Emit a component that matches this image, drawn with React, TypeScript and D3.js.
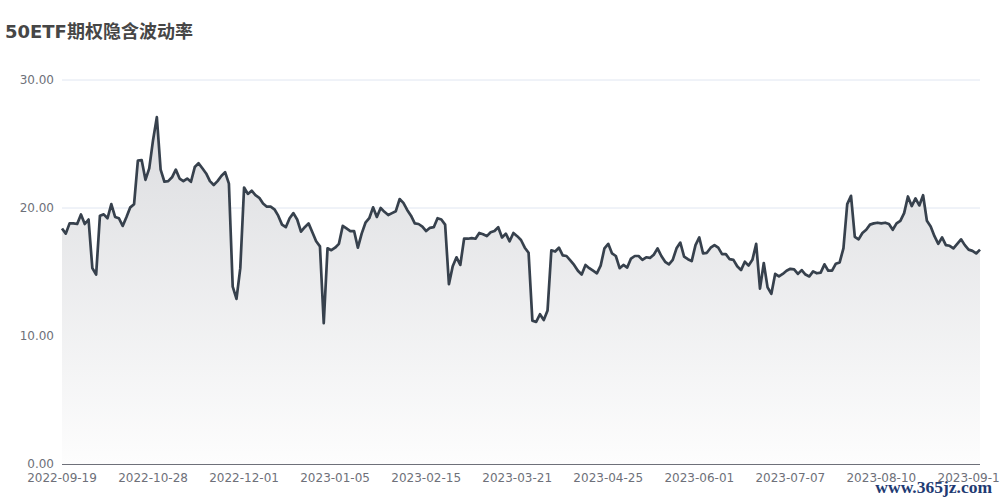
import React from "react";
import * as d3 from "d3";

const title = "50ETF期权隐含波动率";
const startDate = "2022-09-19";
const endDate = "2023-09-15";
const holidays = [
  "2022-10-03", "2022-10-04", "2022-10-05", "2022-10-06", "2022-10-07",
  "2023-01-02", "2023-01-23", "2023-01-24", "2023-01-25", "2023-01-26", "2023-01-27",
  "2023-04-05", "2023-05-01", "2023-05-02", "2023-05-03", "2023-06-22", "2023-06-23",
];
const yTicks = [0, 10, 20, 30];

const ivValues = [
  18.4, 18.0, 18.8, 18.8, 18.75, 19.5, 18.75, 19.1, 15.3, 14.8,
  19.4, 19.5, 19.2, 20.3, 19.3, 19.2, 18.6, 19.3, 20.05, 20.3,
  23.7, 23.75, 22.2, 23.1, 25.3, 27.1, 23.0, 22.05, 22.1, 22.4,
  23.0, 22.3, 22.1, 22.3, 22.05, 23.2, 23.5, 23.1, 22.7, 22.1,
  21.8, 22.1, 22.5, 22.8, 21.9, 13.85, 12.9, 15.3, 21.6, 21.1,
  21.35, 21.0, 20.8, 20.35, 20.1, 20.1, 19.9, 19.4, 18.7, 18.5,
  19.2, 19.6, 19.1, 18.15, 18.5, 18.8, 18.1, 17.4, 17.0, 11.0,
  16.85, 16.7, 16.9, 17.2, 18.6, 18.4, 18.2, 18.2, 16.9, 18.0,
  18.85, 19.2, 20.05, 19.3, 20.0, 19.7, 19.45, 19.6, 19.75, 20.7,
  20.4, 19.85, 19.4, 18.8, 18.75, 18.55, 18.2, 18.45, 18.5, 19.2,
  19.1, 18.7, 14.05, 15.45, 16.15, 15.55, 17.6, 17.6, 17.65, 17.6,
  18.05, 17.95, 17.8, 18.1, 18.2, 18.5, 17.7, 18.0, 17.4, 18.05,
  17.8, 17.5, 16.9, 16.5, 11.2, 11.1, 11.7, 11.25, 12.0, 16.7,
  16.6, 16.9, 16.3, 16.25, 15.9, 15.55, 15.1, 14.8, 15.55, 15.3,
  15.1, 14.9, 15.5, 16.85, 17.2, 16.45, 16.25, 15.3, 15.55, 15.35,
  16.05, 16.25, 16.25, 15.95, 16.15, 16.1, 16.35, 16.85, 16.25, 15.8,
  15.6, 15.95, 16.85, 17.3, 16.2, 16.0, 15.85, 17.1, 17.7, 16.45,
  16.5, 16.9, 17.1, 16.9, 16.4, 16.4, 16.0, 15.95, 15.45, 15.15,
  15.8, 15.5, 15.95, 17.2, 13.7, 15.7, 13.8, 13.3, 14.85, 14.65,
  14.85, 15.1, 15.25, 15.2, 14.85, 15.15, 14.8, 14.65, 15.05, 14.9,
  14.95, 15.6, 15.1, 15.1, 15.65, 15.75, 16.85, 20.3, 20.95, 17.75,
  17.55, 18.05, 18.3, 18.7, 18.8, 18.85, 18.8, 18.85, 18.75, 18.3,
  18.8, 19.0, 19.6, 20.9, 20.15, 20.75, 20.2, 21.0, 19.0, 18.55,
  17.8, 17.2, 17.7, 17.1, 17.05, 16.85, 17.2, 17.55, 17.1, 16.75,
  16.65, 16.45, 16.75,
];

function tradingDays(): string[] {
  const fmt = d3.utcFormat("%Y-%m-%d");
  const days = d3.utcDay.range(new Date(startDate + "T00:00:00Z"), d3.utcDay.offset(new Date(endDate + "T00:00:00Z"), 1));
  return days
    .filter((d) => d.getUTCDay() !== 0 && d.getUTCDay() !== 6)
    .map(fmt)
    .filter((s) => !holidays.includes(s));
}

const W = 1000;
const H = 500;
const left = 62;
const right = 980;
const top = 80;
const bottom = 464;
const labelInterval = 24;
const font = "'DejaVu Sans', 'Noto Sans CJK SC', sans-serif";

export default function App() {
  const dates = tradingDays().slice(0, ivValues.length);
  const x = d3.scaleLinear().domain([0, dates.length - 1]).range([left, right]);
  const y = d3.scaleLinear().domain([0, 30]).range([bottom, top]);
  const pts = ivValues.map((v, i) => [x(i), y(v)] as [number, number]);
  const line = d3.line<[number, number]>().x((d) => d[0]).y((d) => d[1])(pts) || "";
  const area =
    d3
      .area<[number, number]>()
      .x((d) => d[0])
      .y0(y(0))
      .y1((d) => d[1])(pts) || "";
  const maxY = y(d3.max(ivValues) as number);
  const tickIdx = d3.range(0, dates.length, labelInterval);

  return (
    <svg width={W} height={H} style={{ position: "absolute", left: 0, top: 0, background: "#fff" }}>
      <defs>
        <linearGradient id="ag" gradientUnits="userSpaceOnUse" x1={0} y1={maxY} x2={0} y2={bottom}>
          <stop offset="0%" stopColor="#dcdde0" />
          <stop offset="100%" stopColor="#fdfdfd" />
        </linearGradient>
      </defs>
      <text x={5} y={38} fontFamily={font} fontSize={18} fontWeight="bold" fill="#464646">
        {title}
      </text>
      {yTicks.map((t) => (
        <g key={t}>
          {t !== 0 && <line x1={left} x2={right} y1={y(t)} y2={y(t)} stroke="#e0e6f1" strokeWidth={1} />}
          <text x={54} y={y(t)} dy="0.35em" textAnchor="end" fontFamily={font} fontSize={12} fill="#6e7079">
            {t.toFixed(2)}
          </text>
        </g>
      ))}
      <path d={area} fill="url(#ag)" />
      <line x1={left} x2={right} y1={bottom + 0.5} y2={bottom + 0.5} stroke="#6e7079" strokeWidth={1} />
      {tickIdx.map((i) => (
        <text key={i} x={x(i)} y={482} textAnchor="middle" fontFamily={font} fontSize={12} fill="#6e7079">
          {dates[i]}
        </text>
      ))}
      <path d={line} fill="none" stroke="#37414d" strokeWidth={2.7} strokeLinejoin="round" />
      <text x={992} y={493} textAnchor="end" fontFamily="'Liberation Serif', 'DejaVu Serif', serif" fontSize={17.5} fontWeight="bold" fill="#1f3b73">
        www.365jz.com
      </text>
    </svg>
  );
}
